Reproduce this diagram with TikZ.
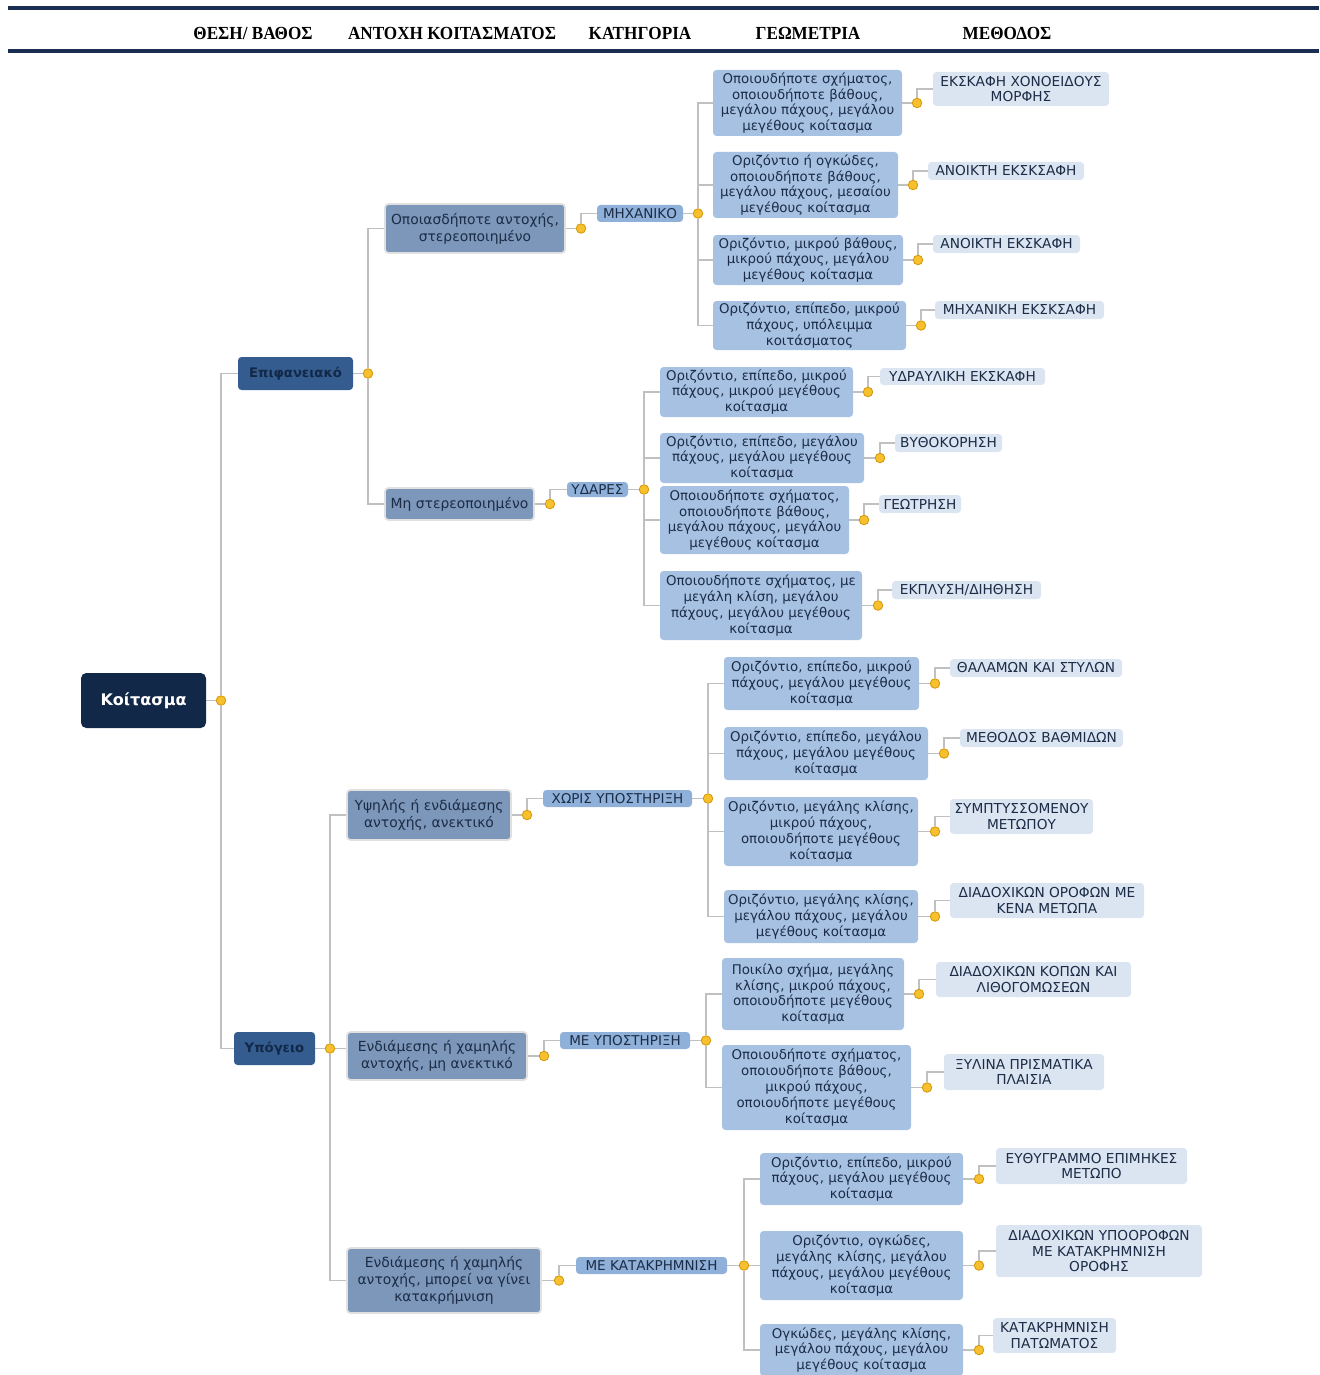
\documentclass[tikz,border=0pt]{standalone}
\usepackage{fontspec}
\setmainfont{DejaVu Sans}
\newfontfamily\headfont{Liberation Serif}[FakeStretch=0.93]
\usetikzlibrary{positioning, backgrounds}
\definecolor{navyRacine}{RGB}{18,40,72}
\definecolor{bleuNiveau}{RGB}{52,92,142}
\definecolor{bleuAcier}{RGB}{124,151,186}
\definecolor{bleuCateg}{RGB}{143,176,216}
\definecolor{bleuGeom}{RGB}{167,193,227}
\definecolor{bleuMeth}{RGB}{219,229,242}
\definecolor{texteFonce}{RGB}{28,44,70}
\definecolor{griTrait}{RGB}{192,192,192}
\definecolor{jauneKnob}{RGB}{246,192,46}
\definecolor{jauneBord}{RGB}{214,154,10}
\definecolor{navyRegle}{RGB}{26,46,82}

\begin{document}
\begin{tikzpicture}[
  x=0.02cm, y=-0.02cm,
  sz/.style args={#1x#2}{minimum width=#1*0.02cm, minimum height=#2*0.02cm},
  socle/.style={rectangle, rounded corners=2pt, inner sep=1pt,
    align=center, text=texteFonce},
  racine/.style={socle, fill=navyRacine, text=white, rounded corners=3pt,
    font=\fontsize{9.1}{11}\selectfont\bfseries},
  niveau/.style={socle, fill=bleuNiveau, text=navyRacine,
    font=\fontsize{7.5}{9}\selectfont\bfseries},
  resist/.style={socle, fill=bleuAcier, draw=black!12, line width=1pt,
    font=\fontsize{7.9}{9.6}\selectfont},
  categ/.style={socle, fill=bleuCateg, font=\fontsize{7.7}{9}\selectfont},
  geom/.style={socle, fill=bleuGeom, font=\fontsize{7.6}{9}\selectfont},
  meth/.style={socle, fill=bleuMeth, font=\fontsize{7.8}{9}\selectfont},
  knob/.style={circle, fill=jauneKnob, draw=jauneBord, line width=0.5pt,
    inner sep=0pt, minimum size=0.19cm},
  trait/.style={draw=griTrait, line width=1pt},
  entete/.style={font=\headfont\fontsize{10.5}{12}\selectfont\bfseries,
    text=black},
  regle/.style={draw=navyRegle, line width=1.8pt},
]
\useasboundingbox (0,0) rectangle (1319,1375);

\draw[regle] (8,8) -- (1319,8);
\draw[regle] (8,51) -- (1319,51);
\node[entete] (h1) at (253,33) {ΘΕΣΗ/ ΒΑΘΟΣ};
\node[entete] (h2) at (452,33) {ΑΝΤΟΧΗ ΚΟΙΤΑΣΜΑΤΟΣ};
\node[entete] (h3) at (640,33) {ΚΑΤΗΓΟΡΙΑ};
\node[entete] (h4) at (808,33) {ΓΕΩΜΕΤΡΙΑ};
\node[entete] (h5) at (1007,33) {ΜΕΘΟΔΟΣ};

\node[racine, sz=125x55] (koit) at (143.5,700.5) {Κοίτασμα};
\node[niveau, sz=115x33] (epif) at (295.5,373.5) {Επιφανειακό};
\node[niveau, sz=81x33]  (ypog) at (274.5,1048.5) {Υπόγειο};

\node[resist, sz=180x49] (ant1) at (475,228.5)
  {Οποιασδήποτε αντοχής,\\στερεοποιημένο};
\node[resist, sz=149x32] (ant2) at (459.5,504) {Μη στερεοποιημένο};
\node[resist, sz=164x50] (ant3) at (429,815)
  {Υψηλής ή ενδιάμεσης\\αντοχής, ανεκτικό};
\node[resist, sz=180x48] (ant4) at (437,1056)
  {Ενδιάμεσης ή χαμηλής\\αντοχής, μη ανεκτικό};
\node[resist, sz=194x65] (ant5) at (444,1280.5)
  {Ενδιάμεσης ή χαμηλής\\αντοχής, μπορεί να γίνει\\κατακρήμνιση};

\node[categ, sz=86x17]  (mech)  at (640,213.5)  {ΜΗΧΑΝΙΚΟ};
\node[categ, sz=61x15]  (ydar)  at (597.5,489.5) {ΥΔΑΡΕΣ};
\node[categ, sz=149x17] (xoris) at (617.5,798.5) {ΧΩΡΙΣ ΥΠΟΣΤΗΡΙΞΗ};
\node[categ, sz=130x17] (meyp)  at (625,1040.5) {ΜΕ ΥΠΟΣΤΗΡΙΞΗ};
\node[categ, sz=151x17] (mekat) at (651.5,1265.5) {ΜΕ ΚΑΤΑΚΡΗΜΝΙΣΗ};

\node[geom, sz=189x66] (geo1) at (807.5,103)
  {Οποιουδήποτε σχήματος,\\οποιουδήποτε βάθους,\\μεγάλου πάχους, μεγάλου\\μεγέθους κοίτασμα};
\node[geom, sz=185x66] (geo2) at (805.5,185)
  {Οριζόντιο ή ογκώδες,\\οποιουδήποτε βάθους,\\μεγάλου πάχους, μεσαίου\\μεγέθους κοίτασμα};
\node[geom, sz=190x50] (geo3) at (808,260)
  {Οριζόντιο, μικρού βάθους,\\μικρού πάχους, μεγάλου\\μεγέθους κοίτασμα};
\node[geom, sz=193x49] (geo4) at (809.5,325.5)
  {Οριζόντιο, επίπεδο, μικρού\\πάχους, υπόλειμμα\\κοιτάσματος};
\node[geom, sz=193x50] (geo5) at (756.5,392)
  {Οριζόντιο, επίπεδο, μικρού\\πάχους, μικρού μεγέθους\\κοίτασμα};
\node[geom, sz=204x50] (geo6) at (762,458)
  {Οριζόντιο, επίπεδο, μεγάλου\\πάχους, μεγάλου μεγέθους\\κοίτασμα};
\node[geom, sz=189x68] (geo7) at (754.5,520)
  {Οποιουδήποτε σχήματος,\\οποιουδήποτε βάθους,\\μεγάλου πάχους, μεγάλου\\μεγέθους κοίτασμα};
\node[geom, sz=202x69] (geo8) at (761,605.5)
  {Οποιουδήποτε σχήματος, με\\μεγάλη κλίση, μεγάλου\\πάχους, μεγάλου μεγέθους\\κοίτασμα};
\node[geom, sz=195x53] (geo9) at (821.5,683.5)
  {Οριζόντιο, επίπεδο, μικρού\\πάχους, μεγάλου μεγέθους\\κοίτασμα};
\node[geom, sz=204x53] (geo10) at (826,753.5)
  {Οριζόντιο, επίπεδο, μεγάλου\\πάχους, μεγάλου μεγέθους\\κοίτασμα};
\node[geom, sz=194x69] (geo11) at (821,831.5)
  {Οριζόντιο, μεγάλης κλίσης,\\μικρού πάχους,\\οποιουδήποτε μεγέθους\\κοίτασμα};
\node[geom, sz=194x53] (geo12) at (821,916.5)
  {Οριζόντιο, μεγάλης κλίσης,\\μεγάλου πάχους, μεγάλου\\μεγέθους κοίτασμα};
\node[geom, sz=182x72] (geo13) at (813,994)
  {Ποικίλο σχήμα, μεγάλης\\κλίσης, μικρού πάχους,\\οποιουδήποτε μεγέθους\\κοίτασμα};
\node[geom, sz=189x85] (geo14) at (816.5,1087.5)
  {Οποιουδήποτε σχήματος,\\οποιουδήποτε βάθους,\\μικρού πάχους,\\οποιουδήποτε μεγέθους\\κοίτασμα};
\node[geom, sz=203x52] (geo15) at (861.5,1179)
  {Οριζόντιο, επίπεδο, μικρού\\πάχους, μεγάλου μεγέθους\\κοίτασμα};
\node[geom, sz=203x69] (geo16) at (861.5,1265.5)
  {Οριζόντιο, ογκώδες,\\μεγάλης κλίσης, μεγάλου\\πάχους, μεγάλου μεγέθους\\κοίτασμα};
\node[geom, sz=203x52] (geo17) at (861.5,1350)
  {Ογκώδες, μεγάλης κλίσης,\\μεγάλου πάχους, μεγάλου\\μεγέθους κοίτασμα};

\node[meth, sz=176x34] (met1) at (1021,89) {ΕΚΣΚΑΦΗ ΧΟΝΟΕΙΔΟΥΣ\\ΜΟΡΦΗΣ};
\node[meth, sz=156x18] (met2) at (1006,171) {ΑΝΟΙΚΤΗ ΕΚΣΚΣΑΦΗ};
\node[meth, sz=147x18] (met3) at (1006.5,244) {ΑΝΟΙΚΤΗ ΕΚΣΚΑΦΗ};
\node[meth, sz=169x18] (met4) at (1019.5,310) {ΜΗΧΑΝΙΚΗ ΕΚΣΚΣΑΦΗ};
\node[meth, sz=165x17] (met5) at (962.5,376.5) {ΥΔΡΑΥΛΙΚΗ ΕΚΣΚΑΦΗ};
\node[meth, sz=107x18] (met6) at (948.5,443) {ΒΥΘΟΚΟΡΗΣΗ};
\node[meth, sz=82x18]  (met7) at (920,504) {ΓΕΩΤΡΗΣΗ};
\node[meth, sz=149x18] (met8) at (966.5,590) {ΕΚΠΛΥΣΗ/ΔΙΗΘΗΣΗ};
\node[meth, sz=172x18] (met9) at (1036,668) {ΘΑΛΑΜΩΝ ΚΑΙ ΣΤΥΛΩΝ};
\node[meth, sz=163x18] (met10) at (1041.5,738) {ΜΕΘΟΔΟΣ ΒΑΘΜΙΔΩΝ};
\node[meth, sz=143x35] (met11) at (1021.5,816.5) {ΣΥΜΠΤΥΣΣΟΜΕΝΟΥ\\ΜΕΤΩΠΟΥ};
\node[meth, sz=194x35] (met12) at (1047,900.5) {ΔΙΑΔΟΧΙΚΩΝ ΟΡΟΦΩΝ ΜΕ\\ΚΕΝΑ ΜΕΤΩΠΑ};
\node[meth, sz=195x35] (met13) at (1033.5,979.5) {ΔΙΑΔΟΧΙΚΩΝ ΚΟΠΩΝ ΚΑΙ\\ΛΙΘΟΓΟΜΩΣΕΩΝ};
\node[meth, sz=160x36] (met14) at (1024,1072) {ΞΥΛΙΝΑ ΠΡΙΣΜΑΤΙΚΑ\\ΠΛΑΙΣΙΑ};
\node[meth, sz=191x36] (met15) at (1091.5,1166) {ΕΥΘΥΓΡΑΜΜΟ ΕΠΙΜΗΚΕΣ\\ΜΕΤΩΠΟ};
\node[meth, sz=206x52] (met16) at (1099,1251)
  {ΔΙΑΔΟΧΙΚΩΝ ΥΠΟΟΡΟΦΩΝ\\ΜΕ ΚΑΤΑΚΡΗΜΝΙΣΗ\\ΟΡΟΦΗΣ};
\node[meth, sz=123x35] (met17) at (1054.5,1335.5) {ΚΑΤΑΚΡΗΜΝΙΣΗ\\ΠΑΤΩΜΑΤΟΣ};

\node[knob] (kR)  at (221,700.5) {};
\node[knob] (kE)  at (368,373.5) {};
\node[knob] (kY)  at (330,1048.5) {};
\node[knob] (kA1) at (581,228.5) {};
\node[knob] (kA2) at (550,504) {};
\node[knob] (kA3) at (527,815) {};
\node[knob] (kA4) at (544,1056) {};
\node[knob] (kA5) at (559,1280.5) {};
\node[knob] (kC1) at (698,213.5) {};
\node[knob] (kC2) at (644,489.5) {};
\node[knob] (kC3) at (708,798.5) {};
\node[knob] (kC4) at (706,1040.5) {};
\node[knob] (kC5) at (744,1265.5) {};
\node[knob] (k1)  at (917,103) {};
\node[knob] (k2)  at (913,185) {};
\node[knob] (k3)  at (918,260) {};
\node[knob] (k4)  at (921,325.5) {};
\node[knob] (k5)  at (868,392) {};
\node[knob] (k6)  at (880,458) {};
\node[knob] (k7)  at (864,520) {};
\node[knob] (k8)  at (878,605.5) {};
\node[knob] (k9)  at (935,683.5) {};
\node[knob] (k10) at (944,753.5) {};
\node[knob] (k11) at (935,831.5) {};
\node[knob] (k12) at (935,916.5) {};
\node[knob] (k13) at (919,994) {};
\node[knob] (k14) at (927,1087.5) {};
\node[knob] (k15) at (979,1179) {};
\node[knob] (k16) at (979,1265.5) {};
\node[knob] (k17) at (979,1350) {};

\begin{scope}[on background layer]
\draw[trait] (koit) -- (kR);
\draw[trait] (kR) |- (epif);
\draw[trait] (kR) |- (ypog);
\draw[trait] (epif) -- (kE);
\draw[trait] (kE) |- (ant1);
\draw[trait] (kE) |- (ant2);
\draw[trait] (ypog) -- (kY);
\draw[trait] (kY) |- (ant3);
\draw[trait] (kY) -- (kY -| ant4.west);
\draw[trait] (kY) |- (ant5);
\draw[trait] (ant1) -- (kA1);  \draw[trait] (kA1) |- (mech);
\draw[trait] (ant2) -- (kA2);  \draw[trait] (kA2) |- (ydar);
\draw[trait] (ant3) -- (kA3);  \draw[trait] (kA3) |- (xoris);
\draw[trait] (ant4) -- (kA4);  \draw[trait] (kA4) |- (meyp);
\draw[trait] (ant5) -- (kA5);  \draw[trait] (kA5) |- (mekat);
\draw[trait] (mech) -- (kC1);
\draw[trait] (kC1) |- (geo1);  \draw[trait] (kC1) |- (geo2);
\draw[trait] (kC1) |- (geo3);  \draw[trait] (kC1) |- (geo4);
\draw[trait] (ydar) -- (kC2);
\draw[trait] (kC2) |- (geo5);  \draw[trait] (kC2) |- (geo6);
\draw[trait] (kC2) |- (geo7);  \draw[trait] (kC2) |- (geo8);
\draw[trait] (xoris) -- (kC3);
\draw[trait] (kC3) |- (geo9);  \draw[trait] (kC3) |- (geo10);
\draw[trait] (kC3) |- (geo11); \draw[trait] (kC3) |- (geo12);
\draw[trait] (meyp) -- (kC4);
\draw[trait] (kC4) |- (geo13); \draw[trait] (kC4) |- (geo14);
\draw[trait] (mekat) -- (kC5);
\draw[trait] (kC5) |- (geo15); \draw[trait] (kC5) |- (geo16);
\draw[trait] (kC5) |- (geo17);
\draw[trait] (geo1) -- (k1);   \draw[trait] (k1) |- (met1);
\draw[trait] (geo2) -- (k2);   \draw[trait] (k2) |- (met2);
\draw[trait] (geo3) -- (k3);   \draw[trait] (k3) |- (met3);
\draw[trait] (geo4) -- (k4);   \draw[trait] (k4) |- (met4);
\draw[trait] (geo5) -- (k5);   \draw[trait] (k5) |- (met5);
\draw[trait] (geo6) -- (k6);   \draw[trait] (k6) |- (met6);
\draw[trait] (geo7) -- (k7);   \draw[trait] (k7) |- (met7);
\draw[trait] (geo8) -- (k8);   \draw[trait] (k8) |- (met8);
\draw[trait] (geo9) -- (k9);   \draw[trait] (k9) |- (met9);
\draw[trait] (geo10) -- (k10); \draw[trait] (k10) |- (met10);
\draw[trait] (geo11) -- (k11); \draw[trait] (k11) |- (met11);
\draw[trait] (geo12) -- (k12); \draw[trait] (k12) |- (met12);
\draw[trait] (geo13) -- (k13); \draw[trait] (k13) |- (met13);
\draw[trait] (geo14) -- (k14); \draw[trait] (k14) |- (met14);
\draw[trait] (geo15) -- (k15); \draw[trait] (k15) |- (met15);
\draw[trait] (geo16) -- (k16); \draw[trait] (k16) |- (met16);
\draw[trait] (geo17) -- (k17); \draw[trait] (k17) |- (met17);
\end{scope}
\end{tikzpicture}
\end{document}
